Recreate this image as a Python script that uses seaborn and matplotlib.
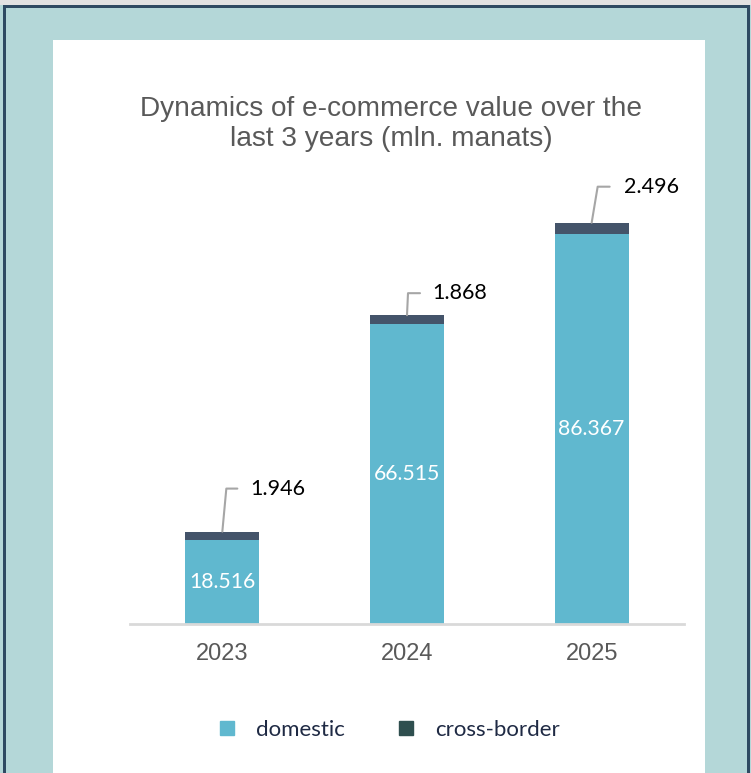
import matplotlib
matplotlib.use("Agg")
import matplotlib.pyplot as plt
from matplotlib.patches import Rectangle
from matplotlib.lines import Line2D
from matplotlib.transforms import IdentityTransform
import seaborn as sns
import pandas as pd

# E-commerce value, mln. manats
years = ["2023", "2024", "2025"]
domestic = [18.516, 66.515, 86.367]
cross_border = [1.946, 1.868, 2.496]

title = "Dynamics of e-commerce value over the\nlast 3 years (mln. manats)"
series_names = ["domestic", "cross-border"]

DOMESTIC_C = "#60b8cf"
CROSS_C = "#44546a"
CROSS_LEGEND_C = "#2f4f4f"
GREY_TXT = "#595959"

W, H = 751, 773
sns.set_theme(style="white")
plt.rcParams["font.family"] = ["Liberation Sans", "DejaVu Sans"]

fig = plt.figure(figsize=(W / 100, H / 100), dpi=100, facecolor="#b4d7d8")


def px_box(x0, y0, x1, y1):
    """Pixel box (top-left origin) -> figure-fraction (left, bottom, width, height)."""
    return (x0 / W, 1 - y1 / H, (x1 - x0) / W, (y1 - y0) / H)


def add_rect(x0, y0, x1, y1, color):
    l, b, w, h = px_box(x0, y0, x1, y1)
    fig.add_artist(Rectangle((l, b), w, h, transform=fig.transFigure,
                             facecolor=color, edgecolor="none", zorder=-2))


# frame decoration
add_rect(0, 0, W, 5, "#e2e2e2")
add_rect(3, 5, 750, 8, "#2e4a62")
add_rect(3, 5, 6, H, "#2e4a62")
add_rect(747, 5, 750, H, "#2e4a62")
add_rect(6, 8, 747, H, "#b4d7d8")
add_rect(53, 40, 705, H, "white")

df = pd.DataFrame({"year": years, "domestic": domestic, "cross_border": cross_border})
df["total"] = df["domestic"] + df["cross_border"]

ax = fig.add_axes(px_box(130, 172.4, 684, 624))
ax.patch.set_alpha(0)

# stacked bars: total (cross-border on top) behind, domestic in front
sns.barplot(data=df, x="year", y="total", color=CROSS_C, width=0.4,
            saturation=1, linewidth=0, ax=ax)
sns.barplot(data=df, x="year", y="domestic", color=DOMESTIC_C, width=0.4,
            saturation=1, linewidth=0, ax=ax)

ax.set_xlim(-0.5, 2.5)
ax.set_ylim(0, 100)
ax.set_xlabel("")
ax.set_ylabel("")
ax.set_yticks([])
for side in ("left", "right", "top"):
    ax.spines[side].set_visible(False)
ax.spines["bottom"].set_color("#d9d9d9")
ax.spines["bottom"].set_linewidth(2)
ax.tick_params(axis="x", length=0, pad=14, labelsize=17, labelcolor=GREY_TXT)

# domestic values inside the bars
for i, d in enumerate(df["domestic"]):
    ax.text(i, d / 2, f"{d:.3f}", ha="center", va="center", color="white",
            fontsize=15.3, family=["Lato", "DejaVu Sans"])

# cross-border values with leader lines (pixel offsets from bar top)
leaders = [(4, 43, 15, 28), (1, 22, 13, 25), (6, 36, 18, 32)]
for i, (c, tot) in enumerate(zip(df["cross_border"], df["total"])):
    bx, by = ax.transData.transform((i, tot))
    dx, dy, xe, tx = leaders[i]
    fig.add_artist(Line2D([bx, bx + dx, bx + xe], [by, by + dy, by + dy],
                          transform=IdentityTransform(), color="#a6a6a6",
                          linewidth=1.5, zorder=3))
    fig.text(bx + tx, by + dy, f"{c:.3f}", transform=IdentityTransform(),
             ha="left", va="center", color="black", fontsize=15.5,
             family=["Lato", "DejaVu Sans"])

fig.text(391 / W, 1 - 124 / H, title, ha="center", va="center",
         fontsize=20.2, color=GREY_TXT, linespacing=1.2)

handles = [
    Line2D([], [], marker="s", linestyle="", markersize=10, color=DOMESTIC_C,
           label=series_names[0]),
    Line2D([], [], marker="s", linestyle="", markersize=10, color=CROSS_LEGEND_C,
           label=series_names[1]),
]
fig.legend(handles=handles, loc="center", bbox_to_anchor=(389 / W, 1 - 730 / H),
           ncol=2, frameon=False, prop={"family": ["Lato", "DejaVu Sans"], "size": 16},
           labelcolor="#1f2a44", handlelength=0.8, handletextpad=0.9,
           columnspacing=2.35)

fig.savefig("out.png", dpi=100, facecolor=fig.get_facecolor())
